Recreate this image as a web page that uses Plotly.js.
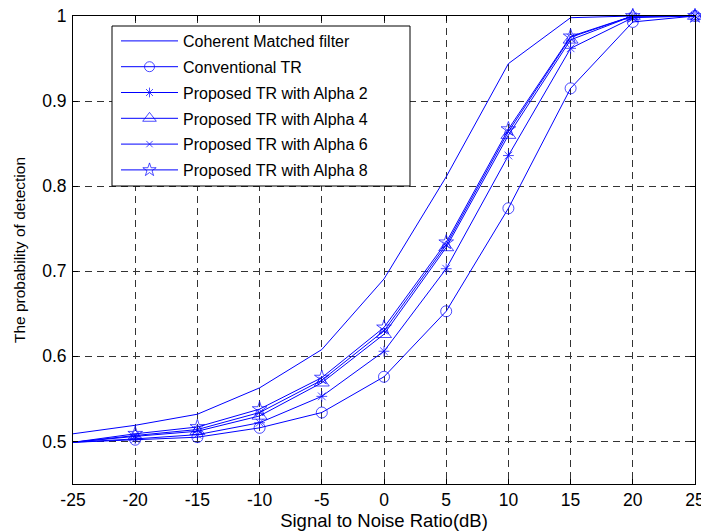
<!DOCTYPE html>
<html>
<head>
<meta charset="utf-8">
<script src="https://cdn.plot.ly/plotly-3.0.1.min.js"></script>
<style>html,body{margin:0;padding:0;background:#fff;}#chart{width:701px;height:532px;}</style>
</head>
<body>
<div id="chart"></div>
<script>
var snr = [-25, -20, -15, -10, -5, 0, 5, 10, 15, 20, 25];
var coherentMF = [0.509, 0.519, 0.532, 0.563, 0.608, 0.691, 0.811, 0.944, 0.998, 1.0, 1.0];
var conventionalTR = [0.499, 0.502, 0.505, 0.516, 0.534, 0.576, 0.653, 0.774, 0.915, 0.993, 1.0];
var alpha2 = [0.499, 0.503, 0.508, 0.522, 0.553, 0.606, 0.703, 0.836, 0.962, 0.998, 1.0];
var alpha4 = [0.499, 0.506, 0.512, 0.530, 0.569, 0.626, 0.728, 0.860, 0.972, 1.0, 1.0];
var alpha6 = [0.499, 0.507, 0.514, 0.534, 0.572, 0.630, 0.731, 0.864, 0.975, 1.0, 1.0];
var alpha8 = [0.499, 0.509, 0.517, 0.538, 0.575, 0.634, 0.734, 0.867, 0.976, 1.0, 1.0];
var seriesNames = ["Coherent Matched filter", "Conventional TR", "Proposed TR with Alpha 2",
  "Proposed TR with Alpha 4", "Proposed TR with Alpha 6", "Proposed TR with Alpha 8"];
var xTicks = [-25, -20, -15, -10, -5, 0, 5, 10, 15, 20, 25];
var xTickText = ["-25", "-20", "-15", "-10", "-5", "0", "5", "10", "15", "20", "25"];
var yTicks = [0.5, 0.6, 0.7, 0.8, 0.9, 1];
var yTickText = ["0.5", "0.6", "0.7", "0.8", "0.9", "1"];

var blue = '#0000ff';
var allY = [coherentMF, conventionalTR, alpha2, alpha4, alpha6, alpha8];
var symbols = [null, 'circle-open', 'asterisk-open', 'triangle-up-open', 'x-thin-open', 'star-open'];
var sizes = [0, 11, 9, 13, 7, 11];
var traces = allY.map(function (ys, i) {
  var t = {
    x: snr, y: ys, name: seriesNames[i], type: 'scatter',
    legendgroup: 'g' + i, cliponaxis: false,
    line: {color: blue, width: 1},
    mode: symbols[i] ? 'lines+markers' : 'lines'
  };
  if (symbols[i]) {
    // first point (left edge) is drawn without a marker, as in the reference
    var sz = snr.map(function (v, k) { return k === 0 ? 0 : sizes[i]; });
    t.marker = {symbol: symbols[i], size: sz, color: blue, line: {color: blue, width: 1}};
  }
  return t;
});

var ff = 'Liberation Sans, Arial, sans-serif';
var tickFont = {family: ff, size: 17.5, color: '#000'};
var legFont = {family: ff, size: 16, color: '#000'};
var plotL = 73, plotR = 695, plotT = 16, plotB = 484;
var pw = plotR - plotL, ph = plotB - plotT;
var layout = {
  width: 701, height: 532,
  margin: {l: plotL, r: 701 - plotR, t: plotT, b: 532 - plotB},
  paper_bgcolor: '#fff', plot_bgcolor: '#fff',
  font: tickFont,
  showlegend: true,
  legend: {
    x: (116 - plotL) / pw, y: 1 - (24 - plotT) / ph, xanchor: 'left', yanchor: 'top',
    bgcolor: 'rgba(0,0,0,0)', borderwidth: 0,
    font: legFont, itemwidth: 57, tracegroupgap: 2
  },
  shapes: [{
    type: 'rect', xref: 'paper', yref: 'paper', layer: 'above',
    x0: (112 - plotL) / pw, x1: (410 - plotL) / pw,
    y0: 1 - (186 - plotT) / ph, y1: 1 - (26 - plotT) / ph,
    fillcolor: '#fff', line: {color: '#000', width: 1}
  }],
  xaxis: {
    range: [-25, 25], tickvals: xTicks, ticktext: xTickText,
    ticks: 'inside', ticklen: 5, tickcolor: '#000', mirror: 'ticks',
    showline: true, linecolor: '#000', linewidth: 1,
    showgrid: true, gridcolor: '#333', gridwidth: 1, griddash: '7px,5px',
    zeroline: false, tickfont: tickFont, ticklabelstandoff: 0, ticklabeloverflow: 'allow',
    title: {text: 'Signal to Noise Ratio(dB)', font: {family: ff, size: 18.5, color: '#000'}, standoff: 0}
  },
  yaxis: {
    range: [0.45, 1], tickvals: yTicks, ticktext: yTickText,
    ticks: 'inside', ticklen: 5, tickcolor: '#000', mirror: 'ticks',
    showline: true, linecolor: '#000', linewidth: 1,
    showgrid: true, gridcolor: '#333', gridwidth: 1, griddash: '7px,5px',
    zeroline: false, tickfont: tickFont, ticklabelstandoff: 2, ticklabeloverflow: 'allow',
    title: {text: 'The probability of detection', font: {family: ff, size: 15.5, color: '#000'}, standoff: 12}
  }
};
Plotly.newPlot('chart', traces, layout, {staticPlot: true});
</script>
</body>
</html>
